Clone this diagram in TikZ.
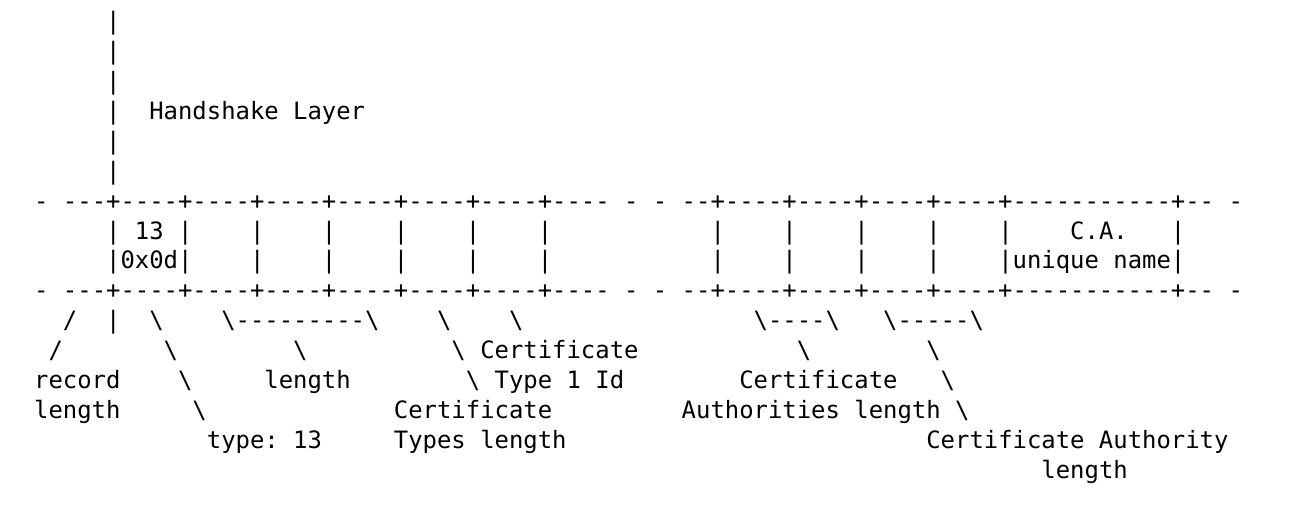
\documentclass[tikz,border=0pt]{standalone}
\usepackage{fontspec}
\newfontfamily\asciifont{DejaVu Sans Mono}[Ligatures=TeXOff]
\newcommand{\bsl}{\textbackslash}
\frenchspacing
\tikzset{
  ascii/.style={font=\asciifont\fontsize{11.95pt}{14.9pt}\selectfont\frenchspacing, inner sep=0pt, anchor=base west}
}
\begin{document}
\begin{tikzpicture}[x=7.195pt, y=-14.935pt]
    \useasboundingbox (-2.349, -1.004) rectangle (87.30, 16.67);
    % record layer
    \foreach \r in {0,1,2,3,4,5}
      \node[ascii] (pipe\r) at (5, \r) {|};
    \node[ascii] (layer) at (8, 3) {Handshake Layer};
    % upper and lower rules
    \foreach \r/\n in {6/top, 9/bot} {
      \node[ascii] (\n-a) at (0, \r) {-};
      \node[ascii] (\n-b) at (2, \r) {---+----+----+----+----+----+----+----};
      \node[ascii] (\n-c) at (41, \r) {-};
      \node[ascii] (\n-d) at (43, \r) {-};
      \node[ascii] (\n-e) at (45, \r) {--+----+----+----+----+-----------+--};
      \node[ascii] (\n-f) at (83, \r) {-};
    }
    % fields
    \foreach \c in {15,20,25,30,35,47,52,57,62} {
      \node[ascii] (upbar\c) at (\c, 7) {|};
      \node[ascii] (lobar\c) at (\c, 8) {|};
    }
    \node[ascii] (upbar5) at (5, 7) {|};
    \node[ascii] (type) at (7, 7) {13};
    \node[ascii] (upbar10) at (10, 7) {|};
    \node[ascii] (upbar67) at (67, 7) {|};
    \node[ascii] (ca) at (72, 7) {C.A.};
    \node[ascii] (upbar79) at (79, 7) {|};
    \node[ascii] (typehex) at (5, 8) {|0x0d|};
    \node[ascii] (caname) at (67, 8) {|unique name|};
    % pointers
    \node[ascii] (p1) at (2, 10) {/};
    \node[ascii] (p2) at (5, 10) {|};
    \node[ascii] (p3) at (8, 10) {\bsl};
    \node[ascii] (p4) at (13, 10) {\bsl---------\bsl};
    \node[ascii] (p5) at (28, 10) {\bsl};
    \node[ascii] (p6) at (33, 10) {\bsl};
    \node[ascii] (p7) at (50, 10) {\bsl----\bsl};
    \node[ascii] (p8) at (59, 10) {\bsl-----\bsl};
    \node[ascii] (q1) at (1, 11) {/};
    \node[ascii] (q2) at (9, 11) {\bsl};
    \node[ascii] (q3) at (18, 11) {\bsl};
    \node[ascii] (q4) at (29, 11) {\bsl{} Certificate};
    \node[ascii] (q5) at (53, 11) {\bsl};
    \node[ascii] (q6) at (62, 11) {\bsl};
    % labels
    \node[ascii] (reclen1) at (0, 12) {record};
    \node[ascii] (r2) at (10, 12) {\bsl};
    \node[ascii] (len) at (16, 12) {length};
    \node[ascii] (type1id) at (30, 12) {\bsl{} Type 1 Id};
    \node[ascii] (calen1) at (49, 12) {Certificate};
    \node[ascii] (r6) at (63, 12) {\bsl};
    \node[ascii] (reclen2) at (0, 13) {length};
    \node[ascii] (s2) at (11, 13) {\bsl};
    \node[ascii] (ctlen1) at (25, 13) {Certificate};
    \node[ascii] (calen2) at (45, 13) {Authorities length \bsl};
    \node[ascii] (typelbl) at (12, 14) {type: 13};
    \node[ascii] (ctlen2) at (25, 14) {Types length};
    \node[ascii] (cauth1) at (62, 14) {Certificate Authority};
    \node[ascii] (cauth2) at (70, 15) {length};
  \end{tikzpicture}
\end{document}
